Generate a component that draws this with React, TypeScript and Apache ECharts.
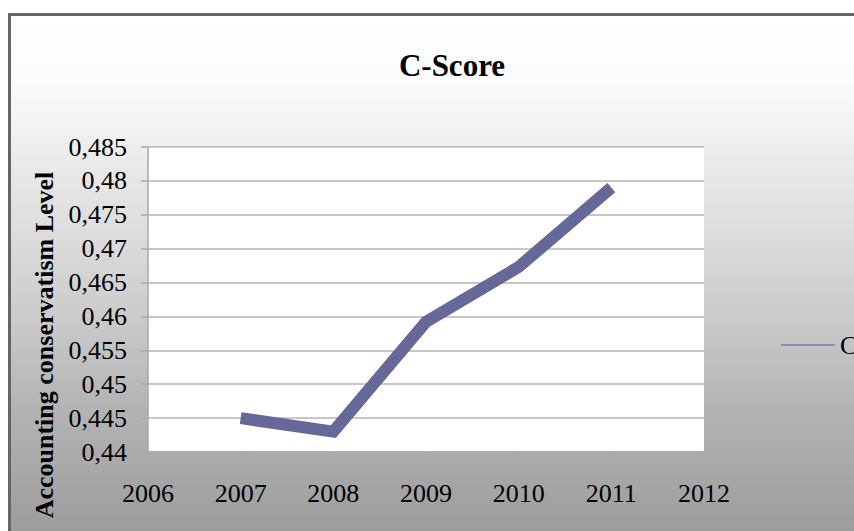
import React, { useEffect, useRef } from "react";
import * as echarts from "echarts";

const years = [2007, 2008, 2009, 2010, 2011];
const cScore = [0.445, 0.443, 0.4592, 0.4673, 0.479];
const seriesName = "C-Score";
const chartTitle = "C-Score";
const yAxisTitle = "Accounting conservatism Level";

const SERIF = "'Liberation Serif', 'Times New Roman', serif";

export default function App() {
  const ref = useRef<HTMLDivElement>(null);
  useEffect(() => {
    if (!ref.current) return;
    const chart = echarts.init(ref.current, null, { renderer: "svg" });
    const option: any = {
      animation: false,
      backgroundColor: "#ffffff",
      graphic: [
        {
          type: "rect",
          z: -10,
          silent: true,
          shape: { x: 9.5, y: 14.5, width: 900, height: 530 },
          style: {
            fill: new echarts.graphic.LinearGradient(0, 0, 0, 1, [
              { offset: 0, color: "#ffffff" },
              { offset: 0.12, color: "#fcfcfc" },
              { offset: 0.3, color: "#e8e8e8" },
              { offset: 0.54, color: "#cfcfcf" },
              { offset: 0.73, color: "#b5b5b5" },
              { offset: 1, color: "#9a9a9a" },
            ]),
            stroke: "#666666",
            lineWidth: 3,
          },
        },
        {
          type: "text",
          x: 44,
          y: 345,
          rotation: Math.PI / 2,
          style: {
            text: yAxisTitle,
            font: `bold 26px ${SERIF}`,
            fill: "#000",
            align: "center",
            verticalAlign: "middle",
          },
        },
      ],
      title: {
        text: chartTitle,
        left: 447,
        top: 45,
        textAlign: "center",
        textStyle: {
          fontFamily: SERIF,
          fontSize: 31,
          fontWeight: "bold",
          color: "#000",
        },
      },
      legend: {
        left: 776,
        top: 327,
        itemWidth: 54,
        itemHeight: 2,
        data: [{ name: seriesName, icon: "rect", itemStyle: { color: "#8c8cb4" } }],
        textStyle: { fontFamily: SERIF, fontSize: 26, color: "#000" },
      },
      grid: {
        left: 148,
        top: 147,
        width: 556,
        height: 305,
        show: true,
        backgroundColor: "#ffffff",
        borderWidth: 0,
      },
      xAxis: {
        type: "value",
        min: 2006,
        max: 2012,
        interval: 1,
        axisLine: { show: true, lineStyle: { color: "#a8a8a8", width: 1.5 } },
        axisTick: { show: true, length: 8, lineStyle: { color: "#a8a8a8", width: 1.5 } },
        splitLine: { show: false },
        axisLabel: {
          formatter: (v: number) => String(v),
          fontFamily: SERIF,
          fontSize: 26,
          color: "#000",
          margin: 28,
        },
      },
      yAxis: {
        type: "value",
        min: 0.44,
        max: 0.485,
        interval: 0.005,
        axisLine: { show: true, lineStyle: { color: "#a8a8a8", width: 1.5 } },
        axisTick: { show: true, length: 7, lineStyle: { color: "#a8a8a8", width: 1.5 } },
        splitLine: { show: true, lineStyle: { color: "#b4b4b4", width: 1.5 } },
        axisLabel: {
          formatter: (v: number) => String(Number(v.toFixed(3))).replace(".", ","),
          fontFamily: SERIF,
          fontSize: 26,
          color: "#000",
          margin: 21,
        },
      },
      series: [
        {
          name: seriesName,
          type: "line",
          data: years.map((y, i) => [y, cScore[i]]),
          symbol: "none",
          lineStyle: { color: "#67689a", width: 12, cap: "butt", join: "miter" },
          itemStyle: { color: "#67689a" },
        },
      ],
    };
    chart.setOption(option);
    return () => chart.dispose();
  }, []);
  return (
    <div
      ref={ref}
      style={{ position: "absolute", left: 0, top: 0, width: 854, height: 531 }}
    />
  );
}
